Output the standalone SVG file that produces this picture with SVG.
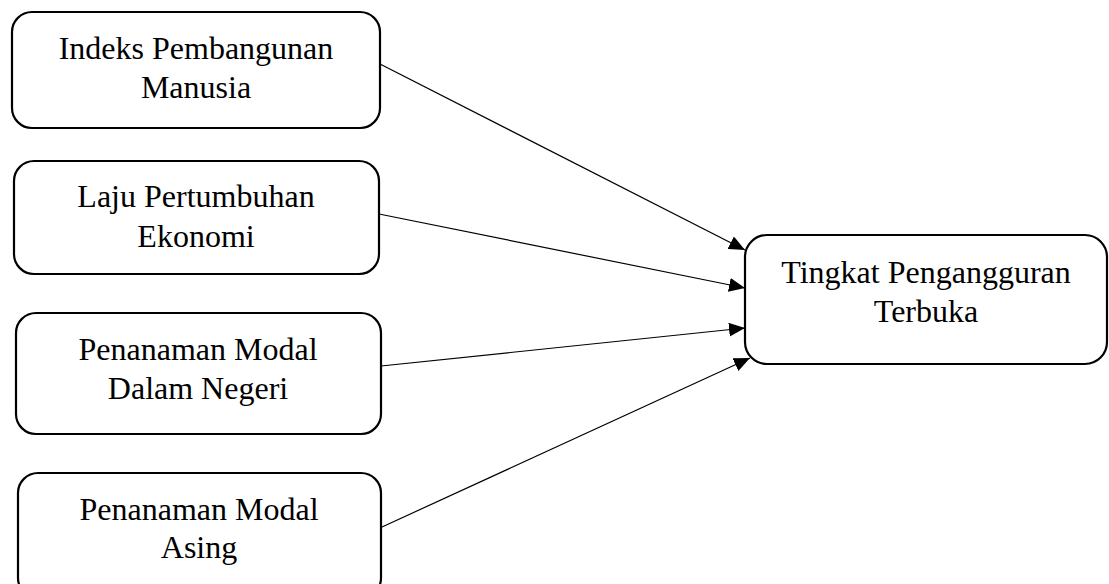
<svg xmlns="http://www.w3.org/2000/svg" width="1109" height="584" viewBox="0 0 1109 584">
<style>
.box{fill:#fff;stroke:#000;stroke-width:2.2}
.lbl{font-family:"Liberation Serif","Times New Roman",serif;font-size:32px;fill:#000;text-anchor:middle}
.con{stroke:#000;stroke-width:1.2;fill:none;marker-end:url(#ah)}
</style>
<defs>
<marker id="ah" markerUnits="userSpaceOnUse" markerWidth="16" markerHeight="14" refX="16" refY="7" orient="auto">
<path d="M0,0 L16,7 L0,14 Z" fill="#000"/>
</marker>
</defs>
<rect width="1109" height="584" fill="#fff"/>
<g id="connectors">
<line class="con" x1="380" y1="64" x2="745" y2="250"/>
<line class="con" x1="379" y1="214" x2="745" y2="288"/>
<line class="con" x1="381" y1="366" x2="745" y2="328"/>
<line class="con" x1="382" y1="527" x2="750" y2="358"/>
</g>
<g id="node-ipm">
<rect class="box" x="12" y="12" width="368" height="116" rx="20"/>
<text class="lbl" x="196" y="59">Indeks Pembangunan</text>
<text class="lbl" x="196" y="98">Manusia</text>
</g>
<g id="node-lpe">
<rect class="box" x="14" y="161" width="365" height="113" rx="20"/>
<text class="lbl" x="196" y="207">Laju Pertumbuhan</text>
<text class="lbl" x="196" y="247">Ekonomi</text>
</g>
<g id="node-pmdn">
<rect class="box" x="16" y="313" width="365" height="121" rx="20"/>
<text class="lbl" x="198" y="360">Penanaman Modal</text>
<text class="lbl" x="198" y="399">Dalam Negeri</text>
</g>
<g id="node-pma">
<rect class="box" x="18" y="473" width="363" height="125" rx="20"/>
<text class="lbl" x="199" y="520">Penanaman Modal</text>
<text class="lbl" x="199" y="558">Asing</text>
</g>
<g id="node-tpt">
<rect class="box" x="745" y="235" width="362" height="129" rx="22"/>
<text class="lbl" x="926" y="283">Tingkat Pengangguran</text>
<text class="lbl" x="926" y="322">Terbuka</text>
</g>
</svg>
